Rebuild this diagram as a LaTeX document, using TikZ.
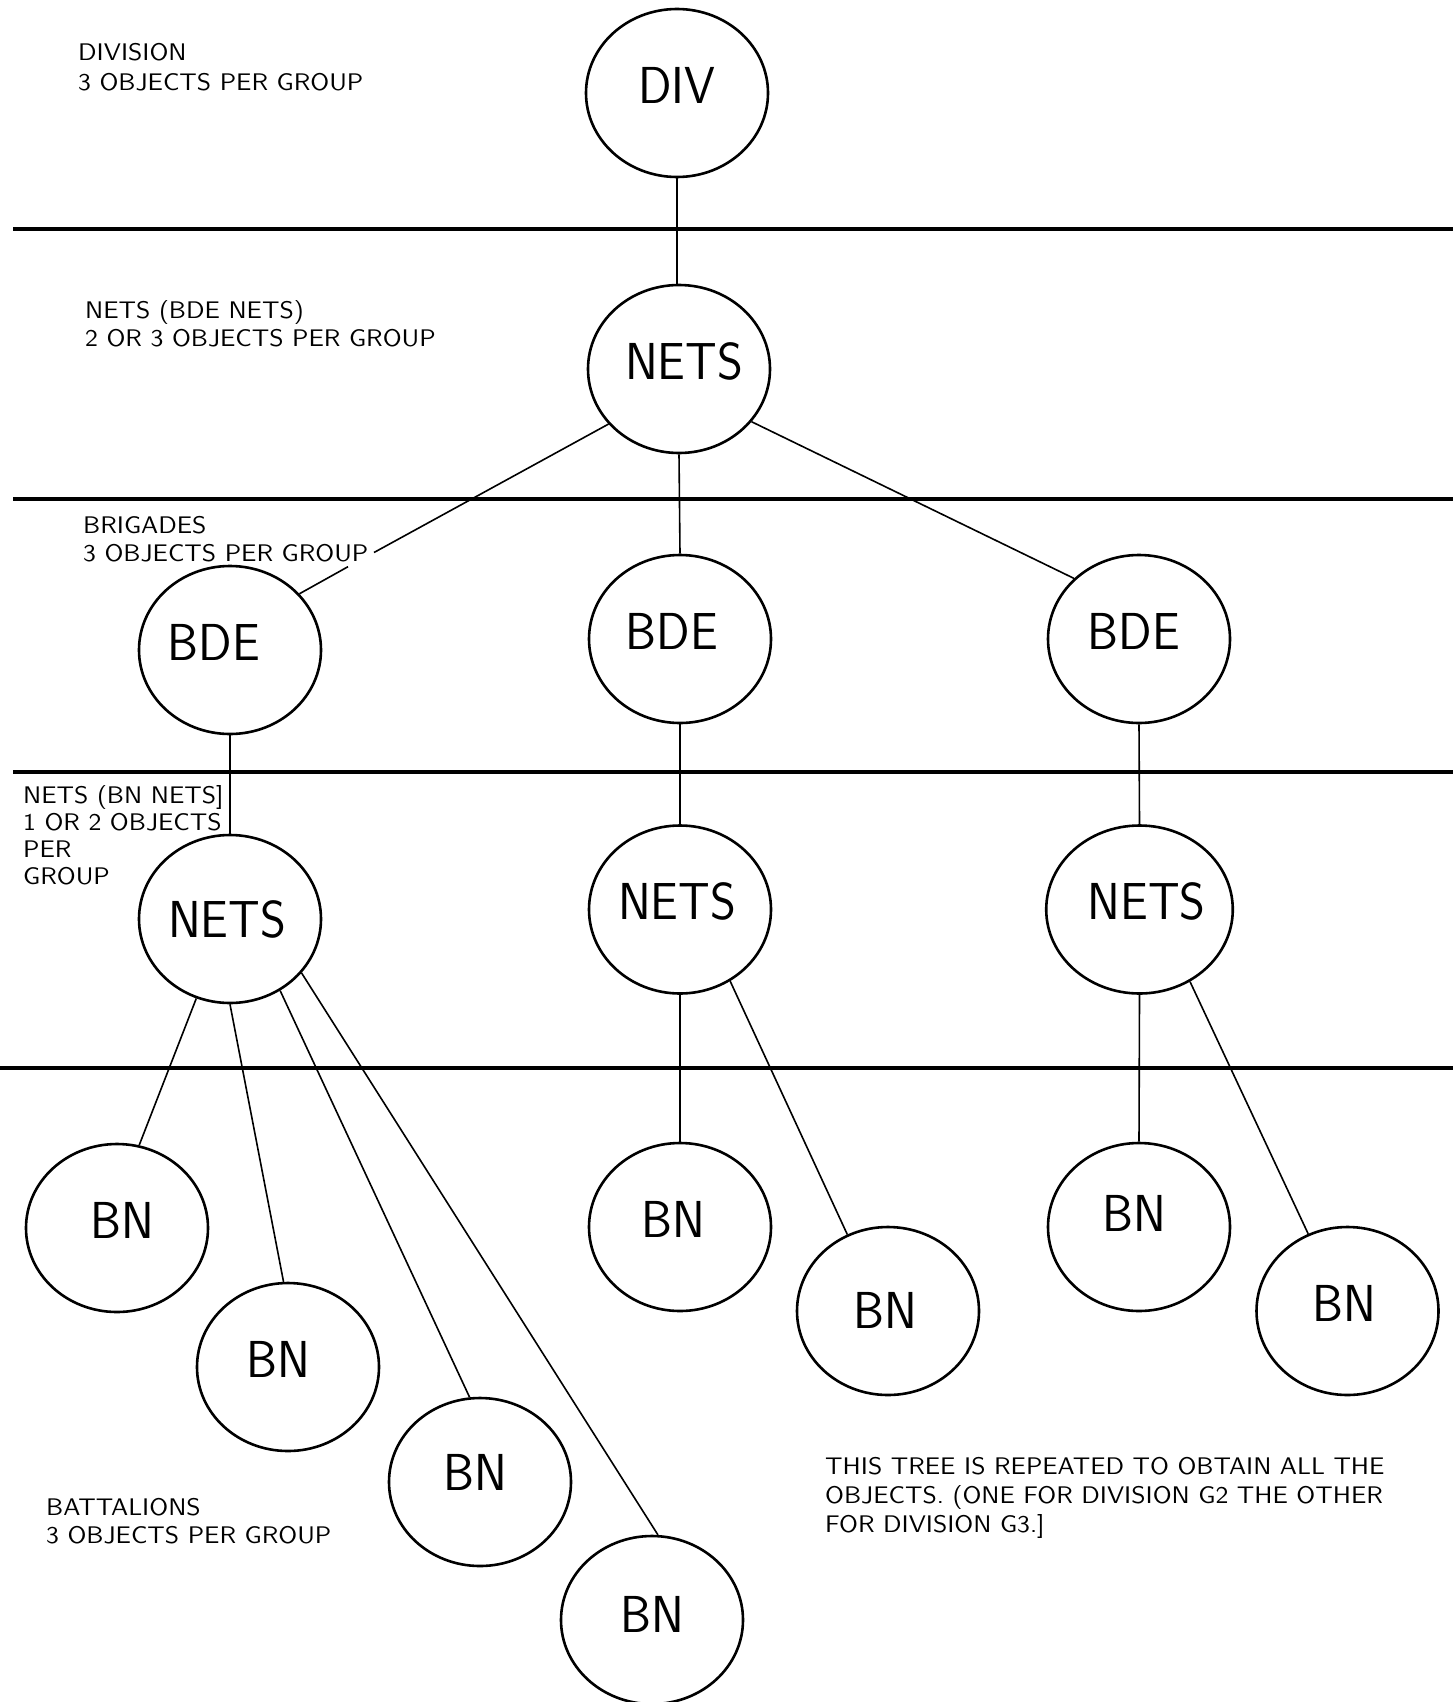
\documentclass[tikz,border=0pt]{standalone}
\usepackage{fontspec}
\usetikzlibrary{shapes.geometric}
% thin single-stroke look for the plotter lettering
\newfontfamily\plotsmall{lmsans10-regular.otf}[FakeStretch=1.07]
\newfontfamily\plotbig{lmsans17-regular.otf}[FakeStretch=0.95]

\begin{document}
\begin{tikzpicture}[x=1pt, y=-1pt,
  rule/.style={line width=4.5pt},
  link/.style={line width=1.6pt},
  unit/.style={ellipse, draw, line width=2.6pt,
    minimum width=182pt, minimum height=168pt, inner sep=0pt,
    font=\plotbig\fontsize{52}{52}\selectfont,
    text height=36pt, text depth=16pt},
  note/.style={anchor=north west, inner sep=0pt, align=left,
    font=\plotsmall\fontsize{24}{28}\selectfont}]

\fill[white] (0,0) rectangle (1453,1702);
\useasboundingbox (0,0) rectangle (1453,1702);

% level separators
\draw[rule] (13,229) -- (1453,229);
\draw[rule] (13,499) -- (1453,499);
\draw[rule] (13,772) -- (1453,772);
\draw[rule] (0,1068) -- (1453,1068);

% tree units (a leading kern nudges the lettering sideways)
\node[unit] (div)   at (677,93)     {DIV};
\node[unit] (nets0) at (679,369)    {\kern10pt NETS};
\node[unit] (bdeL)  at (230,650)    {\kern-32pt BDE};
\node[unit] (bdeM)  at (680,639)    {\kern-16pt BDE};
\node[unit] (bdeR)  at (1139,639)   {\kern-10pt BDE};
\node[unit, text depth=0pt] (netsL) at (230,919) {\kern-6pt NETS};
\node[unit] (netsM) at (680,909.5)  {\kern-6pt NETS};
\node[unit] (netsR) at (1139.5,909.5) {\kern14pt NETS};
\node[unit] (bnL1)  at (117,1228)   {\kern10pt BN};
\node[unit] (bnL2)  at (288,1367)   {\kern-20pt BN};
\node[unit, text depth=19pt] (bnL3) at (480,1482) {\kern-10pt BN};
\node[unit, text depth=11pt] (bnL4) at (652,1620) {BN};
\node[unit] (bnM1)  at (680,1227)   {\kern-14pt BN};
\node[unit, text depth=2pt] (bnM2) at (888,1311) {\kern-6pt BN};
\node[unit, text depth=28pt] (bnR1) at (1139,1227) {\kern-10pt BN};
\node[unit] (bnR2)  at (1347.5,1311) {\kern-7pt BN};

% the leader to the left brigade is broken by the caption text
\coordinate (gapA) at (374,552.5);
\coordinate (gapB) at (348,566.7);

% connectors
\draw[link] (div.south) -- (div.south |- nets0.north);
\draw[link] (nets0.218.6) -- (gapA);
\draw[link] (gapB) -- (bdeL.39.3);
\draw[link] (nets0.south) -- (bdeM.north);
\draw[link] (nets0.324) -- (bdeR.137);
\draw[link] (bdeL.south) -- (netsL.north);
\draw[link] (bdeM.south) -- (netsM.north);
\draw[link] (bdeR.south) -- (netsR.north);
\draw[link] (netsL.247.5) -- (bnL1.75);
\draw[link] (netsL.south) -- (bnL2.93);
\draw[link] (netsL.305.3) -- (bnL3.97);
\draw[link] (netsL.323) -- (bnL4.86.5);
\draw[link] (netsM.south) -- (bnM1.north);
\draw[link] (netsM.305.2) -- (bnM2.118.4);
\draw[link] (netsR.south) -- (bnR1.north);
\draw[link] (netsR.305) -- (bnR2.117);

% level captions
\node[note, font=\plotsmall\fontsize{24}{30}\selectfont]
            (capDiv)  at (78,43)   {DIVISION\\3 OBJECTS PER GROUP};
\node[note] (capNets) at (85,300)  {NETS (BDE NETS)\\2 OR 3 OBJECTS PER GROUP};
\node[note] (capBde)  at (83,516)  {BRIGADES\\3 OBJECTS PER GROUP};
\node[note, font=\plotsmall\fontsize{24}{27}\selectfont]
            (capBnNets) at (23,785) {NETS (BN NETS]\\1 OR 2 OBJECTS\\PER\\GROUP};
\node[note] (capBn)   at (46,1498) {BATTALIONS\\3 OBJECTS PER GROUP};
\node[note, font=\plotsmall\fontsize{24}{29}\selectfont]
            (remark)  at (825,1457) {THIS TREE IS REPEATED TO OBTAIN ALL THE\\OBJECTS. (ONE FOR DIVISION G2 THE OTHER\\FOR DIVISION G3.]};

\end{tikzpicture}
\end{document}
